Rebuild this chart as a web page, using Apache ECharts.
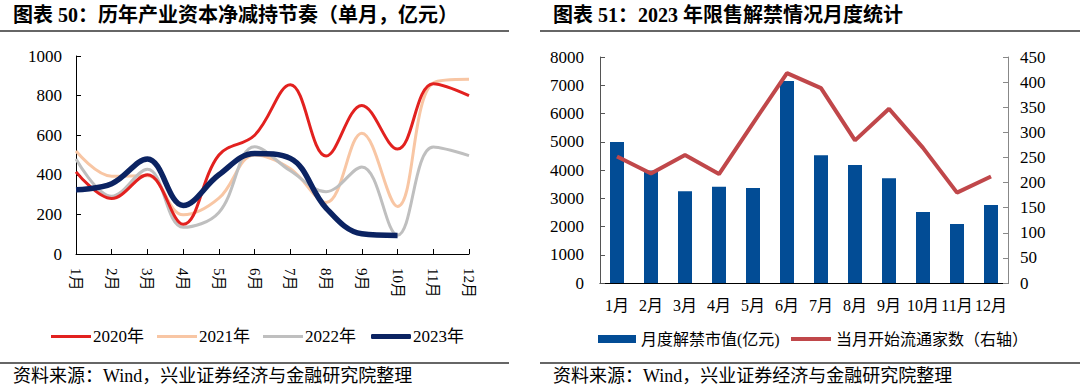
<!DOCTYPE html>
<html>
<head>
<meta charset="utf-8">
<script src="https://cdn.jsdelivr.net/npm/echarts@6/dist/echarts.min.js"></script>
<style>
html,body{margin:0;padding:0;background:#fff;}
#c{width:1080px;height:390px;}
</style>
</head>
<body>
<div id="c"></div>
<script>
// ---- Left chart data ----
const monthsL = ['1月','2月','3月','4月','5月','6月','7月','8月','9月','10月','11月','12月'];
const yearNames = ['2020年','2021年','2022年','2023年'];
const s2020 = [415, 280, 400, 150, 500, 600, 855, 495, 750, 530, 860, 800];
const s2021 = [520, 393, 395, 198, 282, 500, 430, 260, 610, 240, 864, 882];
const s2022 = [480, 292, 428, 135, 210, 542, 420, 315, 440, 95, 540, 497];
const s2023 = [325, 355, 480, 245, 400, 508, 483, 232, 102, 94];
const leftTicks = [0, 200, 400, 600, 800, 1000];

// ---- Right chart data ----
const monthsR = ['1月','2月','3月','4月','5月','6月','7月','8月','9月','10月','11月','12月'];
const unlockValue = [4990, 3980, 3245, 3410, 3363, 7150, 4519, 4177, 3705, 2513, 2088, 2761];
const unlockCount = [252, 218, 255, 217, 318, 418, 388, 284, 347, 269, 180, 212];
const seriesNamesR = ['月度解禁市值(亿元)', '当月开始流通家数（右轴）'];

const titleL = '图表 50：历年产业资本净减持节奏（单月，亿元）';
const titleR = '图表 51：2023 年限售解禁情况月度统计';
const sourceText = '资料来源：Wind，兴业证券经济与金融研究院整理';

const FONT = '"Liberation Serif","Noto Sans CJK SC",serif';
const colors = ['#E2211F', '#F8C6A4', '#BFBFBF', '#0B2362'];
const barColor = '#024C95';
const lineColorR = '#C0474A';

const chart = echarts.init(document.getElementById('c'), null, {renderer: 'svg'});

const plain = v => String(v);
const axisTxt = {color: '#000', fontFamily: FONT, fontSize: 17, formatter: plain};
const legText = {fontFamily: FONT, fontSize: 17, color: '#000'};
const SM = 0.38;

const option = {
  animation: false,
  backgroundColor: '#fff',
  textStyle: {fontFamily: FONT},
  grid: [
    {left: 76, top: 56, width: 393, height: 198, containLabel: false},
    {left: 600, top: 57, width: 408, height: 226, containLabel: false}
  ],
  legend: [
    {
      data: yearNames.slice(0, 3), icon: 'rect', left: 46, top: 323, itemWidth: 40, itemHeight: 3, itemGap: 13,
      textStyle: Object.assign({padding: [0, 0, 0, -3]}, legText)
    },
    {
      data: [yearNames[3]], icon: 'roundRect', left: 366, top: 323, itemWidth: 40, itemHeight: 5,
      textStyle: Object.assign({padding: [0, 0, 0, -3]}, legText)
    },
    {
      data: [seriesNamesR[0]], icon: 'rect', left: 593, top: 326, itemWidth: 38, itemHeight: 8,
      textStyle: {fontFamily: FONT, fontSize: 16, color: '#000'}
    },
    {
      data: [seriesNamesR[1]], icon: 'rect', left: 786, top: 326, itemWidth: 40, itemHeight: 4,
      textStyle: {fontFamily: FONT, fontSize: 16, color: '#000'}
    }
  ],
  xAxis: [
    {
      gridIndex: 0, type: 'category', data: monthsL, boundaryGap: false,
      axisLine: {lineStyle: {color: '#000', width: 1}},
      axisTick: {inside: true, length: 5, lineStyle: {color: '#000'}},
      axisLabel: {rotate: -90, margin: 14, interval: 0, color: '#000', fontFamily: FONT, fontSize: 15}
    },
    {
      gridIndex: 1, type: 'category', data: monthsR, boundaryGap: true,
      axisLine: {lineStyle: {color: '#000', width: 1}},
      axisTick: {inside: true, length: 4, lineStyle: {color: '#555'}},
      axisLabel: {margin: 14, interval: 0, color: '#000', fontFamily: FONT, fontSize: 16}
    }
  ],
  yAxis: [
    {
      gridIndex: 0, type: 'value', min: leftTicks[0], max: leftTicks[leftTicks.length-1], interval: 200,
      axisLine: {show: true, lineStyle: {color: '#000'}},
      axisTick: {show: true, inside: true, length: 5, lineStyle: {color: '#000'}},
      splitLine: {show: false},
      axisLabel: Object.assign({margin: 14}, axisTxt)
    },
    {
      gridIndex: 1, type: 'value', min: 0, max: 8000, interval: 1000,
      axisLine: {show: true, lineStyle: {color: '#555'}},
      axisTick: {show: true, inside: true, length: 5, lineStyle: {color: '#555'}},
      splitLine: {show: false},
      axisLabel: Object.assign({margin: 16}, axisTxt)
    },
    {
      gridIndex: 1, type: 'value', position: 'right', min: 0, max: 450, interval: 50,
      axisLine: {show: true, lineStyle: {color: '#888'}},
      axisTick: {show: true, inside: true, length: 5, lineStyle: {color: '#888'}},
      splitLine: {show: false},
      axisLabel: Object.assign({margin: 12}, axisTxt)
    }
  ],
  series: [
    {name: yearNames[0], type: 'line', xAxisIndex: 0, yAxisIndex: 0, data: s2020, smooth: SM, symbol: 'none',
     lineStyle: {color: colors[0], width: 3}, itemStyle: {color: colors[0]}, z: 3},
    {name: yearNames[1], type: 'line', xAxisIndex: 0, yAxisIndex: 0, data: s2021, smooth: SM, symbol: 'none',
     lineStyle: {color: colors[1], width: 3}, itemStyle: {color: colors[1]}, z: 2},
    {name: yearNames[2], type: 'line', xAxisIndex: 0, yAxisIndex: 0, data: s2022, smooth: SM, symbol: 'none',
     lineStyle: {color: colors[2], width: 3}, itemStyle: {color: colors[2]}, z: 2},
    {name: yearNames[3], type: 'line', xAxisIndex: 0, yAxisIndex: 0, data: s2023, smooth: SM, symbol: 'none',
     lineStyle: {color: colors[3], width: 5.5}, itemStyle: {color: colors[3]}, z: 4},
    {name: seriesNamesR[0], type: 'bar', xAxisIndex: 1, yAxisIndex: 1, data: unlockValue, barWidth: 14,
     itemStyle: {color: barColor}},
    {name: seriesNamesR[1], type: 'line', xAxisIndex: 1, yAxisIndex: 2, data: unlockCount, symbol: 'none',
     lineStyle: {color: lineColorR, width: 4}, itemStyle: {color: lineColorR}, z: 5}
  ],
  graphic: [
    {type: 'text', left: 13, top: 5, style: {text: titleL, font: 'bold 20px ' + FONT, fill: '#000'}},
    {type: 'text', left: 553, top: 5, style: {text: titleR, font: 'bold 20px ' + FONT, fill: '#000'}},
    {type: 'line', shape: {x1: 0, y1: 31, x2: 509, y2: 31}, style: {stroke: '#333', lineWidth: 1.5}},
    {type: 'line', shape: {x1: 540, y1: 31, x2: 1080, y2: 31}, style: {stroke: '#333', lineWidth: 1.5}},
    {type: 'line', shape: {x1: 0, y1: 363, x2: 509, y2: 363}, style: {stroke: '#333', lineWidth: 1.5}},
    {type: 'line', shape: {x1: 540, y1: 363, x2: 1080, y2: 363}, style: {stroke: '#333', lineWidth: 1.5}},
    {type: 'text', left: 13, top: 367, style: {text: sourceText, font: '18px ' + FONT, fill: '#000'}},
    {type: 'text', left: 553, top: 367, style: {text: sourceText, font: '18px ' + FONT, fill: '#000'}}
  ]
};
chart.setOption(option);
</script>
</body>
</html>
